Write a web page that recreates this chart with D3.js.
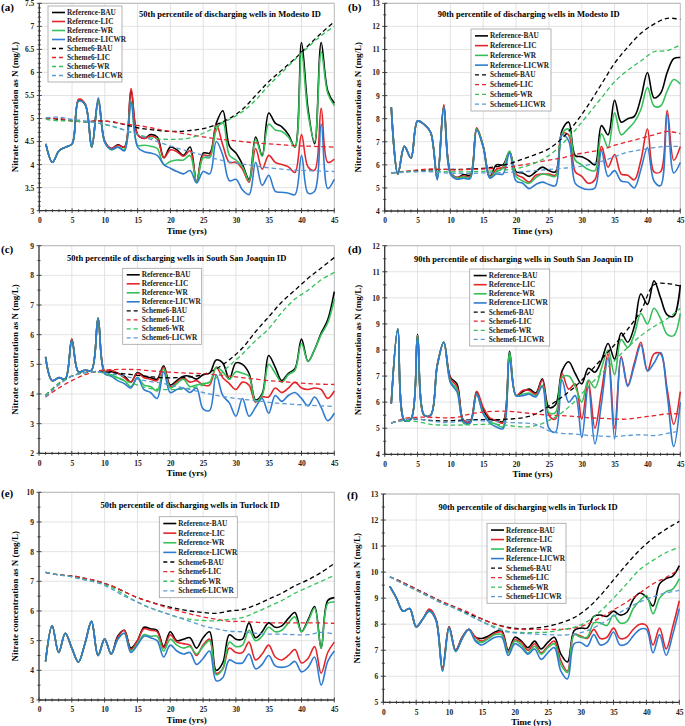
<!DOCTYPE html>
<html><head><meta charset="utf-8">
<script src="https://cdn.jsdelivr.net/npm/d3@7/dist/d3.min.js"></script>
<style>body{margin:0;background:#fff}svg{display:block}</style>
</head><body><svg id="c" width="685" height="726"></svg>
<script>
// ---------- DATA ----------
const years = [1,2,3,4,5,6,7,8,9,10,11,12,13,14,15,16,17,18,19,20,21,22,23,24,25,26,27,28,29,30,31,32,33,34,35,36,37,38,39,40,41,42,43,44,45];
const schemeYears = [1,3,5,7,9,11,13,15,17,19,21,23,25,27,29,31,33,35,37,39,41,43,45];
const seriesNames = ["Reference-BAU","Reference-LIC","Reference-WR","Reference-LICWR","Scheme6-BAU","Scheme6-LIC","Scheme6-WR","Scheme6-LICWR"];
const xTickLabels = [0,5,10,15,20,25,30,35,40,45];

// (a) 50th percentile, Modesto ID
const a_refBAU   = [4.45,4.05,4.3,4.38,4.45,5.4,5.3,4.38,5.4,4.5,4.35,4.43,4.38,5.6,4.65,4.57,4.65,4.6,4.15,4.38,4.32,4.2,4.38,3.62,4.25,4.25,4.9,5.17,4.4,4.25,4.0,3.68,4.6,4.2,5.12,4.9,4.82,4.65,4.38,6.65,5.2,4.45,6.65,5.6,5.33];
const a_refLIC   = [4.45,4.05,4.3,4.38,4.45,5.42,5.32,4.38,5.38,4.5,4.35,4.42,4.38,5.65,4.65,4.57,4.62,4.55,4.15,4.32,4.28,4.18,4.3,3.62,4.2,4.2,4.87,4.42,4.05,4.05,3.9,3.62,4.35,3.9,4.2,4.05,4.0,3.95,3.83,4.65,3.95,3.88,5.22,4.05,4.12];
const a_refWR    = [4.45,4.05,4.3,4.38,4.45,5.38,5.3,4.38,5.38,4.48,4.32,4.38,4.33,5.38,4.42,4.42,4.4,4.35,4.0,4.07,4.1,4.1,4.2,3.62,4.15,4.15,4.75,4.92,4.2,4.1,3.95,3.65,4.55,4.18,4.88,4.75,4.72,4.6,4.38,6.45,5.1,4.5,6.45,5.55,5.28];
const a_refLICWR = [4.45,4.05,4.3,4.38,4.45,5.38,5.3,4.38,5.45,4.48,4.33,4.38,4.3,5.35,4.38,4.28,4.25,4.2,4.0,3.92,3.85,3.8,3.87,3.6,3.85,3.8,4.5,4.2,3.65,3.68,3.45,3.35,4.05,3.55,3.77,3.42,3.4,3.38,3.35,4.2,3.38,3.42,4.88,3.48,3.68];
const a_schBAU   = [5.02,4.98,4.95,4.93,4.95,4.93,4.87,4.8,4.76,4.73,4.72,4.74,4.78,4.87,5.0,5.2,5.5,5.8,6.05,6.3,6.58,6.85,7.1];
const a_schLIC   = [5.0,5.0,4.95,4.93,4.95,4.93,4.88,4.85,4.8,4.74,4.7,4.65,4.6,4.56,4.53,4.5,4.47,4.45,4.43,4.41,4.4,4.39,4.38];
const a_schWR    = [4.98,4.95,4.95,4.93,4.9,4.83,4.75,4.65,4.58,4.55,4.55,4.58,4.68,4.82,4.98,5.15,5.4,5.72,6.0,6.28,6.55,6.8,7.0];
const a_schLICWR = [5.02,5.03,4.98,4.95,4.9,4.84,4.75,4.65,4.55,4.45,4.36,4.28,4.2,4.12,4.06,4.01,3.97,3.93,3.9,3.88,3.87,3.86,3.85];
const a_yTicks = [3,3.5,4,4.5,5,5.5,6,6.5,7,7.5];

// (b) 90th percentile, Modesto ID
const b_refBAU   = [8.5,5.6,6.8,6.3,7.9,7.75,7.4,5.4,8.55,5.7,5.45,5.58,5.55,7.55,6.8,5.5,6.0,6.0,6.55,5.7,5.65,5.5,5.7,5.9,5.75,5.7,7.5,7.85,6.4,6.35,6.2,6.0,7.7,7.3,8.8,7.85,8.0,8.1,8.9,10.0,8.9,9.1,10.0,10.6,10.65];
const b_refLIC   = [8.5,5.6,6.8,6.3,7.9,7.75,7.4,5.45,8.6,5.7,5.45,5.52,5.5,7.6,6.8,5.5,5.8,5.9,6.55,5.6,5.45,5.25,5.55,5.6,5.6,5.55,7.35,7.3,5.7,5.5,5.2,5.35,6.8,5.9,6.45,5.6,5.55,5.35,6.2,7.55,5.7,5.7,8.35,6.2,6.8];
const b_refWR    = [8.5,5.6,6.8,6.3,7.9,7.75,7.4,5.4,8.5,5.65,5.42,5.48,5.45,7.55,6.8,5.45,5.7,5.85,6.6,5.5,5.3,5.2,5.45,5.6,5.55,5.5,7.35,7.55,6.2,6.0,5.8,5.75,7.35,6.75,8.25,7.3,7.55,7.85,8.4,9.35,8.55,8.55,9.2,9.7,9.5];
const b_refLICWR = [8.5,5.6,6.8,6.3,7.9,7.75,7.4,5.35,8.5,5.6,5.38,5.42,5.4,7.5,6.75,5.42,5.6,5.6,6.5,5.3,5.2,4.97,5.15,5.25,5.15,5.1,7.3,7.05,5.2,5.0,4.93,5.0,6.6,5.5,5.75,5.3,5.25,5.0,5.8,6.75,5.3,5.1,8.2,5.65,6.1];
const b_schBAU   = [5.65,5.7,5.75,5.78,5.8,5.8,5.82,5.85,5.92,6.05,6.25,6.45,6.7,7.15,7.8,8.6,9.5,10.4,11.1,11.7,12.1,12.35,12.3];
const b_schLIC   = [5.65,5.72,5.78,5.82,5.8,5.78,5.8,5.82,5.85,5.9,6.0,6.1,6.2,6.3,6.45,6.55,6.65,6.85,7.0,7.15,7.3,7.45,7.35];
const b_schWR    = [5.65,5.7,5.72,5.72,5.7,5.7,5.7,5.72,5.75,5.8,5.9,6.1,6.4,6.9,7.5,8.2,8.9,9.6,10.1,10.5,10.9,10.95,11.2];
const b_schLICWR = [5.65,5.68,5.7,5.7,5.65,5.63,5.63,5.65,5.65,5.68,5.7,5.75,5.8,5.85,5.9,6.0,6.15,6.35,6.55,6.65,6.75,6.8,6.8];
const b_yTicks = [4,5,6,7,8,9,10,11,12,13];

// (c) 50th percentile, South San Joaquin ID
const c_refBAU   = [5.25,4.45,4.55,4.5,5.85,4.75,4.8,4.8,6.55,4.75,4.75,4.7,4.6,4.4,4.72,4.6,4.55,4.5,4.95,4.3,4.45,4.6,4.6,4.5,4.65,4.7,5.15,5.05,4.5,5.05,5.0,4.7,3.8,4.0,5.3,4.9,4.45,4.7,4.85,5.85,5.1,5.5,6.05,6.5,7.45];
const c_refLIC   = [5.25,4.45,4.55,4.5,5.85,4.75,4.8,4.8,6.55,4.78,4.8,4.7,4.55,4.4,4.7,4.55,4.5,4.45,4.9,4.25,4.4,4.55,4.4,4.45,4.3,4.3,4.9,4.55,4.35,4.15,4.4,4.3,3.72,3.9,3.9,4.2,4.05,4.2,4.4,4.2,4.15,4.2,4.15,3.85,4.1];
const c_refWR    = [5.25,4.45,4.55,4.5,5.8,4.75,4.8,4.8,6.55,4.7,4.65,4.55,4.45,4.25,4.55,4.3,4.25,4.1,4.85,4.2,4.35,4.5,4.25,4.3,4.35,4.4,4.9,4.75,4.5,4.75,4.7,4.6,3.75,3.95,5.0,4.7,4.4,4.65,4.8,5.7,5.1,5.5,6.0,6.4,7.2];
const c_refLICWR = [5.25,4.45,4.55,4.5,5.8,4.75,4.8,4.8,6.55,4.68,4.6,4.45,4.35,4.2,4.55,4.15,4.05,3.85,4.75,4.05,4.15,4.2,4.05,4.2,3.5,3.45,4.65,3.95,3.7,3.25,3.85,3.25,3.55,3.85,3.35,3.95,3.75,3.95,4.05,3.85,3.6,3.9,3.55,3.1,3.35];
const c_schBAU   = [3.95,4.35,4.6,4.72,4.75,4.72,4.68,4.63,4.58,4.55,4.55,4.58,4.65,4.85,5.15,5.55,6.1,6.6,7.1,7.5,7.9,8.25,8.6];
const c_schLIC   = [3.9,4.2,4.45,4.65,4.78,4.82,4.83,4.82,4.78,4.75,4.72,4.7,4.68,4.65,4.6,4.55,4.5,4.45,4.42,4.38,4.35,4.33,4.32];
const c_schWR    = [3.95,4.35,4.6,4.72,4.75,4.6,4.45,4.3,4.18,4.15,4.15,4.2,4.3,4.55,4.95,5.35,5.8,6.2,6.75,7.2,7.5,7.85,8.1];
const c_schLICWR = [3.9,4.3,4.6,4.72,4.75,4.68,4.6,4.5,4.42,4.35,4.25,4.15,4.05,3.95,3.88,3.82,3.78,3.72,3.68,3.65,3.62,3.6,3.58];
const c_yTicks = [2,3,4,5,6,7,8,9];

// (d) 90th percentile, South San Joaquin ID
const d_refBAU   = [5.95,8.8,5.3,5.35,8.6,5.5,5.5,7.4,8.3,6.95,6.7,5.3,5.25,6.4,5.7,5.35,5.3,5.25,7.95,6.25,6.4,6.5,6.35,6.9,5.8,5.9,7.2,7.55,7.1,6.7,7.3,7.15,7.6,8.25,7.65,8.65,8.3,8.9,10.15,9.75,10.65,10.0,9.35,9.3,10.5];
const d_refLIC   = [5.95,8.8,5.3,5.35,8.55,5.5,5.5,7.45,8.3,6.9,6.6,5.3,5.25,6.42,5.8,5.4,5.3,5.2,7.7,6.25,6.45,6.45,6.3,6.85,5.5,5.35,7.1,6.5,6.7,5.35,6.8,5.0,6.4,7.85,5.0,7.75,6.65,7.5,8.3,7.2,7.85,7.85,6.5,5.15,6.4];
const d_refWR    = [5.95,8.8,5.3,5.35,8.55,5.5,5.5,7.4,8.3,6.8,6.5,5.2,5.2,6.3,5.6,5.25,5.15,5.05,7.9,6.25,6.3,6.35,6.25,6.65,5.6,5.6,6.95,7.0,6.6,6.0,6.85,6.55,7.3,8.0,7.05,8.4,8.1,8.6,9.4,9.0,9.6,9.2,8.6,8.55,9.4];
const d_refLICWR = [5.95,8.8,5.3,5.35,8.5,5.5,5.5,7.4,8.3,6.75,6.4,5.25,5.2,6.3,5.55,5.2,5.05,4.98,7.6,6.25,6.25,6.3,6.2,6.6,5.0,4.85,6.85,6.0,6.25,4.65,6.6,4.4,5.95,7.7,4.6,7.7,6.6,7.4,8.2,7.2,7.5,7.9,6.3,4.3,6.0];
const d_schBAU   = [5.2,5.32,5.35,5.3,5.28,5.3,5.32,5.33,5.33,5.35,5.4,5.55,5.85,6.2,6.6,7.1,7.65,8.2,8.8,9.5,10.5,10.55,10.45];
const d_schLIC   = [5.2,5.38,5.42,5.42,5.4,5.42,5.55,5.62,5.65,5.65,5.6,5.55,5.5,5.48,5.45,5.4,5.38,5.35,5.35,5.42,5.48,5.55,5.55];
const d_schWR    = [5.2,5.3,5.25,5.15,5.12,5.12,5.13,5.15,5.15,5.1,5.05,5.1,5.3,5.6,6.05,6.6,7.1,7.6,8.1,8.55,8.9,9.2,9.6];
const d_schLICWR = [5.2,5.33,5.35,5.28,5.22,5.25,5.3,5.28,5.25,5.22,5.2,5.15,4.9,4.8,4.78,4.72,4.7,4.68,4.72,4.75,4.72,4.8,4.9];
const d_yTicks = [4,5,6,7,8,9,10,11,12];

// (e) 50th percentile, Turlock ID
const e_refBAU   = [4.3,5.5,4.6,5.25,4.75,4.28,4.9,5.65,4.5,5.05,4.55,5.15,5.35,4.75,5.0,5.45,5.4,5.35,4.8,5.3,5.0,5.05,5.1,4.75,5.1,5.3,4.0,4.25,5.2,5.05,5.05,5.6,5.1,5.3,5.6,5.45,5.5,5.75,5.95,5.3,5.7,6.15,4.75,6.35,6.45];
const e_refLIC   = [4.3,5.5,4.6,5.25,4.75,4.28,4.9,5.65,4.5,5.05,4.55,5.1,5.35,4.7,5.0,5.4,5.35,5.3,4.75,5.2,4.95,4.9,4.85,4.5,4.85,5.05,3.9,4.05,4.75,4.6,4.6,4.95,4.35,4.55,4.85,4.45,4.35,4.5,4.7,4.25,4.4,4.8,3.9,4.6,4.95];
const e_refWR    = [4.3,5.5,4.6,5.25,4.75,4.28,4.9,5.65,4.5,5.05,4.55,5.05,5.25,4.65,4.9,5.2,5.15,5.15,4.65,5.05,4.85,4.75,4.8,4.55,4.8,5.0,3.85,4.05,4.95,4.8,4.85,5.35,5.0,5.15,5.45,5.3,5.35,5.6,5.8,5.3,5.65,6.1,4.75,6.25,6.3];
const e_refLICWR = [4.3,5.5,4.6,5.25,4.75,4.28,4.9,5.65,4.5,5.05,4.55,5.05,5.25,4.6,4.85,5.15,5.1,5.0,4.45,4.85,4.65,4.55,4.6,4.2,4.4,4.65,3.65,3.75,4.35,4.25,4.25,4.55,4.05,4.2,4.5,4.15,4.1,4.15,4.3,3.95,4.1,4.45,3.5,4.3,4.65];
const e_schBAU   = [7.3,7.22,7.18,7.1,7.0,6.85,6.65,6.45,6.3,6.18,6.08,6.0,5.95,5.92,6.0,6.05,6.2,6.4,6.6,6.85,7.05,7.3,7.6];
const e_schLIC   = [7.3,7.22,7.18,7.1,7.0,6.85,6.65,6.45,6.3,6.15,6.02,5.9,5.8,5.72,5.65,5.65,5.62,5.6,5.6,5.6,5.6,5.6,5.58];
const e_schWR    = [7.3,7.22,7.15,7.05,6.95,6.8,6.55,6.3,6.1,5.95,5.8,5.72,5.68,5.67,5.72,5.78,5.95,6.15,6.35,6.6,6.8,7.0,7.2];
const e_schLICWR = [7.3,7.22,7.15,7.05,6.95,6.75,6.5,6.3,6.1,5.95,5.8,5.65,5.5,5.4,5.32,5.3,5.25,5.22,5.22,5.2,5.2,5.28,5.22];
const e_yTicks = [3,4,5,6,7,8,9,10];

// (f) 90th percentile, Turlock ID
const f_refBAU   = [9.45,9.0,8.5,8.6,7.9,8.2,8.55,8.2,6.3,7.9,7.0,7.5,7.8,7.5,7.45,7.55,7.7,7.75,7.0,7.5,7.35,7.1,7.35,7.05,7.3,7.5,6.85,6.55,7.75,7.85,7.85,8.3,8.35,8.3,8.5,8.35,8.45,8.95,9.2,9.05,8.7,9.55,9.75,9.85,10.25];
const f_refLIC   = [9.45,9.0,8.5,8.6,7.9,8.2,8.58,8.2,6.3,7.9,7.0,7.5,7.8,7.5,7.35,7.5,7.65,7.7,6.95,7.4,7.3,7.0,7.25,6.9,7.15,7.35,6.6,6.2,7.6,7.55,7.45,7.8,7.45,7.5,7.85,7.45,7.5,7.8,8.0,7.95,7.2,7.85,7.05,7.9,8.9];
const f_refWR    = [9.45,9.0,8.5,8.6,7.9,8.2,8.5,8.15,6.2,7.85,6.95,7.45,7.8,7.4,7.3,7.45,7.6,7.6,6.9,7.35,7.2,6.9,7.15,6.85,7.1,7.25,6.45,6.15,7.6,7.5,7.5,8.05,8.05,7.95,8.35,8.05,8.1,8.6,8.9,9.1,8.4,9.0,9.25,9.35,9.75];
const f_refLICWR = [9.45,9.0,8.5,8.6,7.9,8.2,8.5,8.15,6.2,7.85,6.95,7.45,7.8,7.35,7.2,7.35,7.5,7.5,6.8,7.25,7.1,6.85,7.05,6.65,6.9,7.1,6.2,5.9,7.25,7.3,7.15,7.6,7.2,7.3,7.7,7.2,7.25,7.55,7.8,7.8,6.9,7.6,6.8,7.6,8.6];
const f_schBAU   = [9.82,9.6,9.35,9.1,8.85,8.65,8.4,8.2,8.0,7.88,7.82,7.85,7.92,8.05,8.25,8.6,9.1,9.7,10.3,10.85,11.3,11.65,11.95];
const f_schLIC   = [9.82,9.6,9.35,9.1,8.85,8.65,8.45,8.2,8.0,7.85,7.8,7.8,7.8,7.8,7.85,8.0,8.25,8.55,8.85,9.2,9.55,9.8,10.1];
const f_schWR    = [9.82,9.55,9.3,9.05,8.8,8.6,8.35,8.1,7.9,7.72,7.68,7.68,7.7,7.78,7.88,8.1,8.5,9.0,9.55,10.1,10.45,10.75,10.95];
const f_schLICWR = [9.82,9.55,9.3,9.05,8.8,8.6,8.35,8.1,7.85,7.7,7.65,7.62,7.6,7.58,7.62,7.75,8.0,8.3,8.6,8.85,9.05,9.2,9.3];
const f_yTicks = [5,6,7,8,9,10,11,12,13];

const panelLabels = ["(a)","(b)","(c)","(d)","(e)","(f)"];
const panelTitles = [
  "50th percentile of discharging wells in Modesto ID",
  "90th percentile of discharging wells in Modesto ID",
  "50th percentile of discharging wells in South San Joaquin ID",
  "90th percentile of discharging wells in South San Joaquin ID",
  "50th percentile of discharging wells in Turlock ID",
  "90th percentile of discharging wells in Turlock ID"
];

// ---------- LAYOUT / STYLE ----------
const FONT = "'Liberation Serif','Times New Roman',serif";
const refColors = ["#000000","#e3262b","#35c05a","#2f7bd0"];
const schColors = ["#000000","#e3262b","#35c05a","#5b9bd5"];

const panels = [
  {ref:[a_refBAU,a_refLIC,a_refWR,a_refLICWR], sch:[a_schBAU,a_schLIC,a_schWR,a_schLICWR], yt:a_yTicks, minor:0.1,
   l:39.3, r:334.3, t:3.3, b:210.7, tx:230, ty:17, lg:[48,6,74,76], lab:[1,11], yl:15},
  {ref:[b_refBAU,b_refLIC,b_refWR,b_refLICWR], sch:[b_schBAU,b_schLIC,b_schWR,b_schLICWR], yt:b_yTicks, minor:0.5,
   l:384.7, r:680.3, t:3.3, b:211, tx:528.7, ty:17, lg:[471,29,80,82], lab:[348,11], yl:358},
  {ref:[c_refBAU,c_refLIC,c_refWR,c_refLICWR], sch:[c_schBAU,c_schLIC,c_schWR,c_schLICWR], yt:c_yTicks, minor:0.5,
   l:39, r:334.3, t:245.7, b:453.3, tx:176.7, ty:261.3, lg:[122.7,268.3,79,76], lab:[1,253], yl:15},
  {ref:[d_refBAU,d_refLIC,d_refWR,d_refLICWR], sch:[d_schBAU,d_schLIC,d_schWR,d_schLICWR], yt:d_yTicks, minor:0.5,
   l:384.7, r:680.3, t:245.7, b:454.3, tx:523.7, ty:262, lg:[469.7,269,80,77], lab:[348,253], yl:358},
  {ref:[e_refBAU,e_refLIC,e_refWR,e_refLICWR], sch:[e_schBAU,e_schLIC,e_schWR,e_schLICWR], yt:e_yTicks, minor:0.5,
   l:39, r:334.3, t:492.3, b:700, tx:190, ty:508, lg:[159.3,516.7,78,81], lab:[1,497], yl:15},
  {ref:[f_refBAU,f_refLIC,f_refWR,f_refLICWR], sch:[f_schBAU,f_schLIC,f_schWR,f_schLICWR], yt:f_yTicks, minor:0.5,
   l:383.3, r:679.3, t:494, b:702.3, tx:528, ty:509.7, lg:[487,523.3,79,80], lab:[347,499], yl:357}
];

const svg = d3.select("#c");
svg.append("rect").attr("width",685).attr("height",726).attr("fill","#fff");

panels.forEach((p,i)=>{
  const g = svg.append("g");
  const x = d3.scaleLinear().domain([0,45]).range([p.l,p.r]);
  const yMin = p.yt[0], yMax = p.yt[p.yt.length-1];
  const y = d3.scaleLinear().domain([yMin,yMax]).range([p.b,p.t]);

  // gridlines
  g.append("g").selectAll("line").data(p.yt.slice(1)).join("line")
    .attr("x1",p.l).attr("x2",p.r).attr("y1",d=>y(d)).attr("y2",d=>y(d))
    .attr("stroke","#dcdcdc").attr("stroke-width",0.8);
  g.append("g").selectAll("line").data(xTickLabels.slice(1,-1)).join("line")
    .attr("x1",d=>x(d)).attr("x2",d=>x(d)).attr("y1",p.t).attr("y2",p.b)
    .attr("stroke","#dcdcdc").attr("stroke-width",0.8);
  g.append("path").attr("d",`M${p.l},${p.t}H${p.r}V${p.b}`)
    .attr("fill","none").attr("stroke","#b0b0b0").attr("stroke-width",0.9);

  // lines
  const line = (xs)=>d3.line().x((d,k)=>x(xs[k])).y(d=>y(d)).curve(d3.curveCatmullRom.alpha(0.5));
  p.ref.forEach((s,k)=>{
    g.append("path").attr("d",line(years)(s)).attr("fill","none")
      .attr("stroke",refColors[k]).attr("stroke-width",1.6).attr("stroke-linejoin","round");
  });
  p.sch.forEach((s,k)=>{
    g.append("path").attr("d",line(schemeYears)(s)).attr("fill","none")
      .attr("stroke",schColors[k]).attr("stroke-width",1.3).attr("stroke-dasharray","4.5,3");
  });

  // axes lines
  g.append("line").attr("x1",p.l).attr("x2",p.l).attr("y1",p.t).attr("y2",p.b).attr("stroke","#333").attr("stroke-width",1.3);
  g.append("line").attr("x1",p.l).attr("x2",p.r).attr("y1",p.b).attr("y2",p.b).attr("stroke","#333").attr("stroke-width",1.3);

  // y ticks
  const yAxis = d3.axisLeft(y).tickValues(p.yt).tickSize(0).tickPadding(5).tickFormat(d=>String(+d.toFixed(1)));
  const ya = g.append("g").attr("transform",`translate(${p.l},0)`).call(yAxis);
  ya.select(".domain").remove();
  ya.selectAll("text").attr("font-family",FONT).attr("font-weight","bold").attr("font-size",7.5).attr("fill","#222");
  const nMinor = Math.round((yMax-yMin)/p.minor);
  const minorY = d3.range(nMinor+1).map(k=>yMin+k*p.minor);
  g.append("g").selectAll("line").data(minorY).join("line")
    .attr("x1",d=> p.yt.some(t=>Math.abs(t-d)<1e-6)? p.l-2.5 : p.l-1.5)
    .attr("x2",d=> p.yt.some(t=>Math.abs(t-d)<1e-6)? p.l+2.5 : p.l+1.5)
    .attr("y1",d=>y(d)).attr("y2",d=>y(d)).attr("stroke","#333").attr("stroke-width",0.9);

  // x ticks
  const xAxis = d3.axisBottom(x).tickValues(xTickLabels).tickSize(0).tickPadding(7);
  const xa = g.append("g").attr("transform",`translate(0,${p.b})`).call(xAxis);
  xa.select(".domain").remove();
  xa.selectAll("text").attr("font-family",FONT).attr("font-weight","bold").attr("font-size",7.5).attr("fill","#222");
  g.append("g").selectAll("line").data(d3.range(0,46)).join("line")
    .attr("x1",d=>x(d)).attr("x2",d=>x(d))
    .attr("y1",d=> d%5===0? p.b-2.5 : p.b-1.5).attr("y2",d=> d%5===0? p.b+2.5 : p.b+1.5)
    .attr("stroke","#333").attr("stroke-width",0.9);

  // axis titles
  g.append("text").attr("x",(p.l+p.r)/2).attr("y",p.b+23).attr("text-anchor","middle")
    .attr("font-family",FONT).attr("font-weight","bold").attr("font-size",9).text("Time (yrs)");
  g.append("text").attr("transform",`translate(${p.yl+3},${(p.t+p.b)/2}) rotate(-90)`).attr("text-anchor","middle")
    .attr("font-family",FONT).attr("font-weight","bold").attr("font-size",9).text("Nitrate concentration as N (mg/L)");

  // panel title + label
  g.append("text").attr("x",p.tx).attr("y",p.ty).attr("text-anchor","middle")
    .attr("font-family",FONT).attr("font-weight","bold").attr("font-size",8.5).text(panelTitles[i]);
  g.append("text").attr("x",p.lab[0]).attr("y",p.lab[1]).attr("font-family",FONT).attr("font-weight","bold")
    .attr("font-size",11).text(panelLabels[i]);

  // legend
  const [lx,ly,lw,lh] = p.lg;
  const lgG = g.append("g");
  lgG.append("rect").attr("x",lx).attr("y",ly).attr("width",lw).attr("height",lh)
    .attr("fill","#fff").attr("stroke","#a0a0a0").attr("stroke-width",0.8);
  const step = (lh-4)/8;
  seriesNames.forEach((nm,k)=>{
    const cy = ly + 2 + step*(k+0.5);
    const isSch = k>=4;
    lgG.append("line").attr("x1",lx+4).attr("x2",lx+17).attr("y1",cy).attr("y2",cy)
      .attr("stroke", isSch? schColors[k-4] : refColors[k]).attr("stroke-width", isSch?1.3:1.6)
      .attr("stroke-dasharray", isSch? "4,3" : null);
    lgG.append("text").attr("x",lx+19).attr("y",cy+2.5).attr("font-family",FONT).attr("font-weight","bold")
      .attr("font-size",7.3).attr("fill","#222").text(nm);
  });
});
</script></body></html>
